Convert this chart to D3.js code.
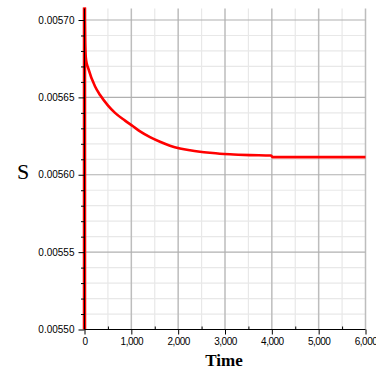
<!DOCTYPE html>
<html>
<head>
<meta charset="utf-8">
<script src="https://cdn.jsdelivr.net/npm/d3@7"></script>
<style>
  body { margin: 0; background: #fff; }
  .tick-label { font-family: "Liberation Sans", sans-serif; font-size: 10px; fill: #000; }
  .axis-title { font-family: "Liberation Serif", serif; fill: #000; }
</style>
</head>
<body>
<svg id="chart" width="376" height="374"></svg>
<script>
// Readings
var times = [0, 0, 13, 34, 77, 226, 333, 503, 652, 866, 1036, 1186, 1399, 1612, 1825, 2038, 2252, 2465, 2678, 2891, 3104, 3531, 3980, 4020, 6000];
var values = [0.00550, 0.005708, 0.005685, 0.005674, 0.005669, 0.005657, 0.0056515, 0.0056447, 0.0056400, 0.005635, 0.0056313, 0.005628, 0.0056243, 0.0056213, 0.0056188, 0.0056170, 0.0056158, 0.0056149, 0.0056142, 0.0056136, 0.0056132, 0.0056127, 0.0056124, 0.0056114, 0.0056114];
var xTicks = [0, 1000, 2000, 3000, 4000, 5000, 6000];
var yTicks = [0.00550, 0.00555, 0.00560, 0.00565, 0.00570];

var svg = d3.select('#chart');

// Scales
	var x = d3.scaleLinear().domain([0, 6000]).range([84.5, 365.5]);
	var y = d3.scaleLinear().domain([0.00550, 0.00570]).range([329.5, 20]);
	var yTop = y.invert(8.5);
	var xMinor = d3.range(500, 6001, 1000);
	var yMinor = d3.range(0, 20).map(i => 0.00550 + i * 0.00001).filter((d, i) => i % 5 !== 0);

// Grid, minor first then major
	var grid = svg.append('g');
	grid.selectAll('line.vminor')
	.data(xMinor)
	.join('line')
		.attr('x1', d => x(d)).attr('x2', d => x(d))
		.attr('y1', y(yTop)).attr('y2', y(0.00550))
		.attr('stroke', '#e8e8e8').attr('stroke-width', 1.2);
	grid.selectAll('line.hminor')
	.data(yMinor)
	.join('line')
		.attr('x1', x(0)).attr('x2', x(6000))
		.attr('y1', d => y(d)).attr('y2', d => y(d))
		.attr('stroke', '#e8e8e8').attr('stroke-width', 1.2);
	grid.selectAll('line.vmajor')
	.data(xTicks.slice(1))
	.join('line')
		.attr('x1', d => x(d)).attr('x2', d => x(d))
		.attr('y1', y(yTop)).attr('y2', y(0.00550))
		.attr('stroke', '#bdbdbd').attr('stroke-width', 1.5);
	grid.selectAll('line.hmajor')
	.data(yTicks.slice(1))
	.join('line')
		.attr('x1', x(0)).attr('x2', x(6000))
		.attr('y1', d => y(d)).attr('y2', d => y(d))
		.attr('stroke', '#b0b0b0').attr('stroke-width', 1.2);

// Curve: the vertical rise at t = 0, then the smooth decay
	var pts = times.map((t, i) => [t, values[i]]);
	var line = d3.line().x(d => x(d[0])).y(d => y(d[1]));
	svg.append('path')
		.datum(pts.slice(0, 2))
		.attr('fill', 'none').attr('stroke', '#ff0000').attr('stroke-width', 3.5)
		.attr('d', line);
	svg.append('path')
		.datum(pts.slice(1))
		.attr('fill', 'none').attr('stroke', '#ff0000').attr('stroke-width', 2.6)
		.attr('stroke-linejoin', 'round')
		.attr('d', line.curve(d3.curveMonotoneX));

// Axes
	var xAxis = svg.append('g').attr('transform', 'translate(0,' + y(0.00550) + ')')
		.call(d3.axisBottom(x).tickValues(xTicks).tickFormat(d3.format(',')).tickSize(5).tickPadding(3));
	xAxis.select('.domain').attr('d', 'M' + x(0) + ',0H' + x(6000)).attr('stroke-width', 1.2);
	xAxis.selectAll('text').attr('class', 'tick-label').style('letter-spacing', '-0.5px');
	svg.append('g').attr('transform', 'translate(0,' + y(0.00550) + ')')
		.call(d3.axisBottom(x).tickValues(xMinor).tickFormat('').tickSize(-3))
		.select('.domain').remove();

	var yAxis = svg.append('g').attr('transform', 'translate(' + x(0) + ',0)')
		.call(d3.axisLeft(y).tickValues(yTicks).tickFormat(d3.format('.5f')).tickSize(6).tickPadding(4));
	yAxis.select('.domain').attr('d', 'M0,' + y(yTop) + 'V' + y(0.00550)).attr('stroke-width', 1);
	yAxis.selectAll('text').attr('class', 'tick-label');
	svg.append('g').attr('transform', 'translate(' + x(0) + ',0)')
		.call(d3.axisLeft(y).tickValues(yMinor).tickFormat('').tickSize(3.5))
		.select('.domain').remove();

// Titles
	svg.append('text').attr('class', 'axis-title')
		.attr('x', 224).attr('y', 366).attr('text-anchor', 'middle')
		.style('font-size', '17px').style('font-weight', 'bold')
		.text('Time');
	svg.append('text').attr('class', 'axis-title')
		.attr('x', 23).attr('y', 179).attr('text-anchor', 'middle')
		.style('font-size', '22px')
		.text('S');
</script>
</body>
</html>
